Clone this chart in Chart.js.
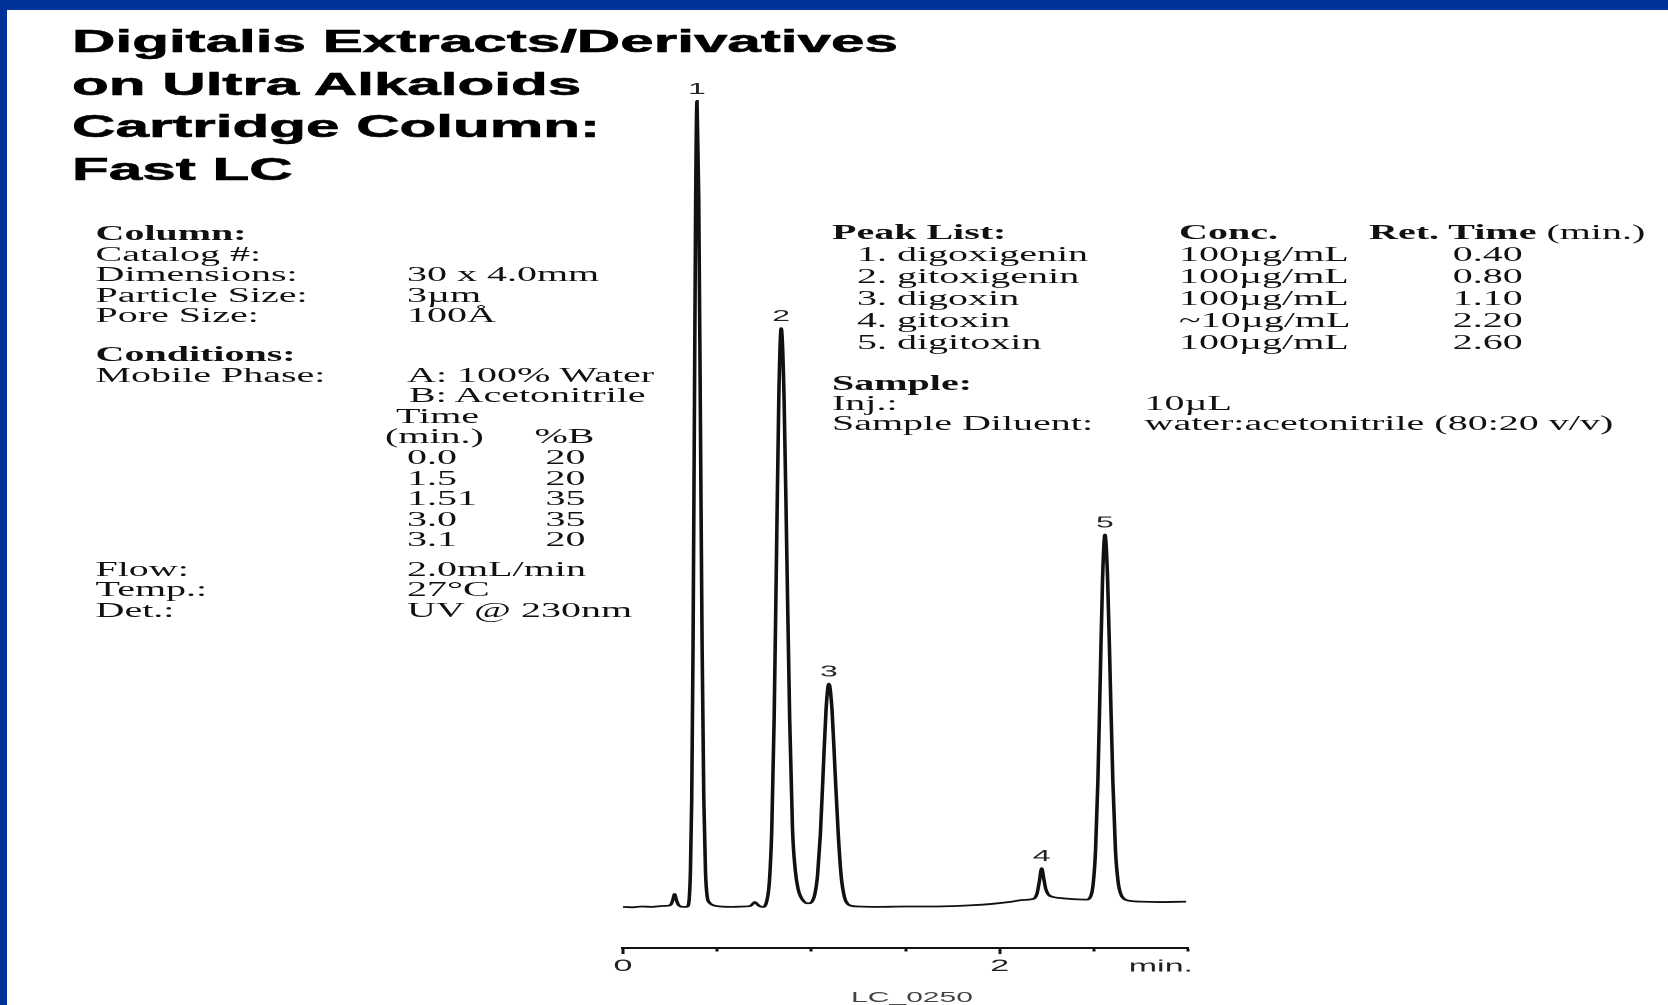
<!DOCTYPE html>
<html>
<head>
<meta charset="utf-8">
<title>Digitalis Extracts/Derivatives - Fast LC</title>
<script src="https://cdn.jsdelivr.net/npm/chart.js@4.4.1/dist/chart.umd.min.js"></script>
<style>
  html, body { margin: 0; padding: 0; background: #fff; }
  body { width: 1668px; height: 1005px; position: relative; overflow: hidden; }
  .bar-top { position: absolute; left: 0; top: 0; width: 1668px; height: 10px; background: #003399; }
  .bar-left { position: absolute; left: 0; top: 0; width: 7px; height: 1005px; background: #003399; }

  /* everything on the sheet is drawn wide: half-width layout stretched 2x */
  #sheet { position: absolute; left: 0; top: 0; width: 834px; height: 1005px;
           transform: scaleX(2); transform-origin: 0 0; }

  .title { position: absolute; left: 36px; top: 20.1px; margin: 0;
           font: bold 32px/42.6px "Liberation Sans", Arial, sans-serif; color: #000;
           -webkit-text-stroke: 0.6px #000; white-space: nowrap;
           transform: scaleX(0.94); transform-origin: 0 0; }

  .row { position: absolute; height: 20px; white-space: nowrap;
         font: 20px/20px "Liberation Serif", "Times New Roman", serif; color: #111; }
  .row b { font-weight: bold; }
  .row span { position: absolute; top: 0; }

  #chartBox { position: absolute; left: 300px; top: 0; }
  .code { position: absolute; left: 406px; top: 989.3px; width: 100px; text-align: center;
          font: 15px/15px "Liberation Sans", Arial, sans-serif; color: #444; }
</style>
</head>
<body>
<div class="bar-top"></div>
<div class="bar-left"></div>

<div id="sheet">
  <h1 class="title">Digitalis Extracts/Derivatives<br>on Ultra Alkaloids<br>Cartridge Column:<br>Fast LC</h1>

  <!-- column / conditions -->
  <div class="row" style="left:47.75px; top:223.25px"><b>Column:</b></div>
  <div class="row" style="left:47.75px; top:243.75px">Catalog #:</div>
  <div class="row" style="left:47.75px; top:264.25px">Dimensions:<span style="left:155.75px">30 x 4.0mm</span></div>
  <div class="row" style="left:47.75px; top:284.75px">Particle Size:<span style="left:155.75px">3µm</span></div>
  <div class="row" style="left:47.75px; top:305.25px">Pore Size:<span style="left:155.75px">100Å</span></div>

  <div class="row" style="left:47.75px; top:343.95px"><b>Conditions:</b></div>
  <div class="row" style="left:47.75px; top:364.55px">Mobile Phase:<span style="left:155.75px">A: 100% Water</span></div>
  <div class="row" style="left:47.75px; top:385.15px"><span style="left:156.75px">B: Acetonitrile</span></div>
  <div class="row" style="left:47.75px; top:405.75px"><span style="left:150.25px">Time</span></div>
  <div class="row" style="left:47.75px; top:426.35px"><span style="left:144.75px">(min.)</span><span style="left:219.5px">%B</span></div>
  <div class="row" style="left:47.75px; top:446.95px"><span style="left:155.75px">0.0</span><span style="left:225px">20</span></div>
  <div class="row" style="left:47.75px; top:467.55px"><span style="left:155.75px">1.5</span><span style="left:225px">20</span></div>
  <div class="row" style="left:47.75px; top:488.15px"><span style="left:155.75px">1.51</span><span style="left:225px">35</span></div>
  <div class="row" style="left:47.75px; top:508.75px"><span style="left:155.75px">3.0</span><span style="left:225px">35</span></div>
  <div class="row" style="left:47.75px; top:529.35px"><span style="left:155.75px">3.1</span><span style="left:225px">20</span></div>

  <div class="row" style="left:47.75px; top:558.75px">Flow:<span style="left:155.75px">2.0mL/min</span></div>
  <div class="row" style="left:47.75px; top:579.45px">Temp.:<span style="left:155.75px">27°C</span></div>
  <div class="row" style="left:47.75px; top:600.15px">Det.:<span style="left:155.75px">UV @ 230nm</span></div>

  <!-- peak list / sample -->
  <div class="row" style="left:416px; top:222.25px"><b>Peak List:</b><span style="left:173.5px"><b>Conc.</b></span><span style="left:268.5px"><b>Ret. Time</b> (min.)</span></div>
  <div class="row" style="left:416px; top:244.25px"><span style="left:12.5px">1. digoxigenin</span><span style="left:173.5px">100µg/mL</span><span style="left:310.4px">0.40</span></div>
  <div class="row" style="left:416px; top:266.25px"><span style="left:12.5px">2. gitoxigenin</span><span style="left:173.5px">100µg/mL</span><span style="left:310.4px">0.80</span></div>
  <div class="row" style="left:416px; top:288.25px"><span style="left:12.5px">3. digoxin</span><span style="left:173.5px">100µg/mL</span><span style="left:310.4px">1.10</span></div>
  <div class="row" style="left:416px; top:310.25px"><span style="left:12.5px">4. gitoxin</span><span style="left:173.5px">~10µg/mL</span><span style="left:310.4px">2.20</span></div>
  <div class="row" style="left:416px; top:332.25px"><span style="left:12.5px">5. digitoxin</span><span style="left:173.5px">100µg/mL</span><span style="left:310.4px">2.60</span></div>

  <div class="row" style="left:416px; top:373.25px"><b>Sample:</b></div>
  <div class="row" style="left:416px; top:393.25px">Inj.:<span style="left:156.25px">10µL</span></div>
  <div class="row" style="left:416px; top:413.25px">Sample Diluent:<span style="left:156.25px">water:acetonitrile (80:20 v/v)</span></div>

  <canvas id="chartBox" width="320" height="1005"></canvas>
  <div class="code">LC_0250</div>
</div>

<script>
// detector trace, time in minutes
const traceTime = [
  0.00, 0.05, 0.10, 0.15, 0.20, 0.24, 0.255, 0.265, 0.274, 0.283, 0.293, 0.305, 0.32, 0.335,
  0.345, 0.352, 0.358, 0.365, 0.372, 0.379, 0.386, 0.393, 0.402, 0.411, 0.420, 0.429, 0.438, 0.447,
  0.46, 0.48, 0.52, 0.58, 0.64, 0.675, 0.69, 0.70, 0.71, 0.725, 0.745,
  0.765, 0.7775, 0.79, 0.8025, 0.815, 0.8275, 0.84, 0.855, 0.87, 0.885, 0.90, 0.915, 0.93, 0.945, 0.96, 0.975,
  0.99, 1.005, 1.018, 1.033, 1.048, 1.063, 1.078, 1.093, 1.11, 1.126, 1.143, 1.159, 1.176, 1.192, 1.21, 1.25,
  1.35, 1.5, 1.65, 1.75, 1.85, 1.95, 2.05, 2.12, 2.17,
  2.19, 2.20, 2.211, 2.223, 2.235, 2.245, 2.26, 2.28, 2.32, 2.40, 2.46,
  2.484, 2.4965, 2.509, 2.5215, 2.534, 2.5465, 2.559, 2.573, 2.587, 2.601, 2.615, 2.629, 2.643, 2.66,
  2.69, 2.75, 2.85, 2.99
]
// detector response, arbitrary units
const traceSignal = [
  0.0, -0.05, 0.05, 0.0, 0.1, 0.15, 0.3, 0.9, 1.6, 0.9, 0.3, 0.05, 0.0, 0.0,
  0.1, 1.1, 4.4, 13.5, 32.5, 60.7, 88.3, 100, 88.3, 60.7, 32.5, 13.5, 4.4, 1.3,
  0.5, 0.2, 0.05, 0.0, 0.05, 0.1, 0.4, 0.6, 0.4, 0.1, 0.0,
  0.9, 3.2, 9.7, 23.3, 43.5, 63.4, 71.8, 63.4, 43.5, 23.3, 9.7, 4.5, 2.2, 1.2, 0.7, 0.45,
  0.45, 0.7, 1.5, 3.9, 9.0, 16.8, 24.4, 27.7, 24.4, 16.8, 9.0, 3.7, 1.2, 0.4, 0.15, 0.05,
  0.0, 0.05, 0.05, 0.1, 0.2, 0.35, 0.6, 0.85, 0.95,
  1.2, 1.8, 3.2, 4.8, 3.4, 2.2, 1.5, 1.25, 1.1, 0.95, 0.9,
  1.35, 2.85, 6.95, 15.6, 28.3, 40.8, 46.2, 40.8, 28.3, 15.6, 6.95, 3.1, 1.6, 1.0,
  0.75, 0.65, 0.6, 0.65
]

// peak numbers and the apex time of each one
const peakNumbers = ['1', '2', '3', '4', '5']
const peakApex = [0.393, 0.84, 1.093, 2.223, 2.559]

// axis tick labels (only these values get a number)
const tickLabels = { 0: '0', 2: '2' }
const axisUnit = 'min.'

const labelFont = '"Liberation Sans", Arial, sans-serif'

const isLabelled = (value) => tickLabels[Math.round(value * 100) / 100] !== undefined

// numbers over peaks + unit at the end of the axis
const peakLabelPlugin = {
  id: 'peakLabels',
  afterDatasetsDraw(chart) {
    const { ctx, scales: { x, y } } = chart
    ctx.save()
    ctx.fillStyle = '#222'
    ctx.font = '16px ' + labelFont
    ctx.textAlign = 'center'
    ctx.textBaseline = 'alphabetic'
    peakNumbers.forEach((num, i) => {
      const idx = traceTime.indexOf(peakApex[i])
      const px = x.getPixelForValue(peakApex[i])
      const py = y.getPixelForValue(traceSignal[idx])
      ctx.fillText(num, px, py - 7)
    })

    ctx.font = '17px ' + labelFont
    ctx.textAlign = 'right'
    ctx.textBaseline = 'middle'
    ctx.fillText(axisUnit, x.right + 2.5, 967)
    ctx.restore()
  }
}

const points = traceTime.map((t, i) => ({ x: t, y: traceSignal[i] }))

const config = {
  type: 'line',
  data: {
    datasets: [{
      data: points,
      borderColor: '#111',
      borderWidth: 1.8,
      pointRadius: 0,
      fill: false,
      cubicInterpolationMode: 'monotone'
    }]
  },
  options: {
    responsive: false,
    animation: false,
    devicePixelRatio: 2,
    layout: {
      padding: { left: 11.5, right: 26, top: 20.3, bottom: 0 }
    },
    plugins: {
      legend: { display: false },
      tooltip: { enabled: false }
    },
    scales: {
      x: {
        type: 'linear',
        min: 0,
        max: 3,
        afterFit: (scale) => { scale.height = 57 },
        border: { display: true, color: '#111', width: 2 },
        grid: {
          drawOnChartArea: false,
          drawTicks: true,
          tickLength: 6,
          tickWidth: 1.5,
          tickColor: '#111',
          // numbered ticks are full length, the others just a short nub
          tickBorderDash: (ctx) => (ctx.tick && isLabelled(ctx.tick.value)) ? [] : [2.5, 20]
        },
        ticks: {
          stepSize: 0.5,
          autoSkip: false,
          maxRotation: 0,
          padding: 2,
          color: '#222',
          font: { family: labelFont, size: 17 },
          callback: (value) => {
            const key = Math.round(value * 100) / 100
            return tickLabels[key] !== undefined ? tickLabels[key] : ''
          }
        }
      },
      y: {
        display: false,
        min: -5.1,
        max: 110
      }
    }
  },
  plugins: [peakLabelPlugin]
}

new Chart(document.getElementById('chartBox'), config)
</script>
</body>
</html>
